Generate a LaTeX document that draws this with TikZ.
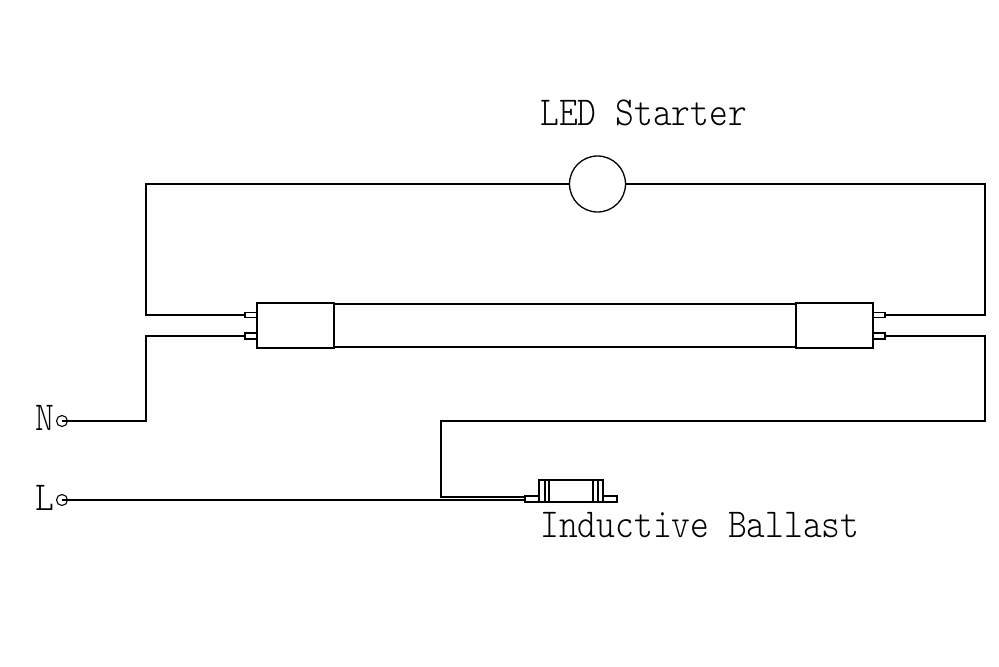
\documentclass[tikz,border=0pt]{standalone}
\usepackage{tikz}
\usetikzlibrary{positioning}
\newcommand{\TallText}[1]{\scalebox{1}[1.15]{#1}}

\begin{document}
\begin{tikzpicture}[
x=0.2mm,y=-0.2mm,
Wires/.style={draw=black,line width=0.24mm},
Parts/.style={draw=black,line width=0.32mm},
Labels/.style={inner sep=0pt,font=\fontsize{20.35}{24}\selectfont\ttfamily\fontseries{l}\selectfont},
Terminal/.style={circle,draw=black,line width=0.22mm,inner sep=0pt,minimum size=2.2mm},
StarterBall/.style={circle,draw=black,line width=0.26mm,inner sep=0pt,minimum size=11.2mm}
]

\useasboundingbox (0,0) rectangle (999,666);

% tube
\draw[Parts] (257,303) rectangle (334,348);
\draw[Parts] (796,303) rectangle (873,348);
\draw[Parts] (334,304) -- (796,304);
\draw[Parts] (334,347) -- (796,347);
\draw[black,line width=0.55mm] (257,303) -- (257,348);
\draw[black,line width=0.55mm] (873,303) -- (873,348);

% pins
\foreach \Ypin/\Hpin in {315/2.5,336/3}{
\draw[Wires] (245,\Ypin-\Hpin) rectangle (257,\Ypin+\Hpin);
\draw[Wires] (873,\Ypin-\Hpin) rectangle (885,\Ypin+\Hpin);
}
\coordinate (PinLa) at (245,315);
\coordinate (PinLb) at (245,336);
\coordinate (PinRa) at (885,315);
\coordinate (PinRb) at (885,336);

% ballast
\draw[Parts] (539,480) rectangle (603,502);
\draw[Wires] (525,496) rectangle (539,502);
\draw[Wires] (603,496) rectangle (617,502);
\foreach \Xbar in {545,549,593,598}{
\draw[Wires] (\Xbar,480) -- (\Xbar,502);
}
\coordinate (BallastA) at (525,497);
\coordinate (BallastB) at (525,500);

% starter and terminals
\node[StarterBall] (Starter) at (597.5,184) {};
\node[Terminal] (TermN) at (62,421) {};
\node[Terminal] (TermL) at (62,500) {};

% wires
\draw[Wires] (Starter.west) -- (146,184) -- (146,315) -- (PinLa);
\draw[Wires] (Starter.east) -- (985,184) -- (985,315) -- (PinRa);
\draw[Wires] (TermN.center) -- (146,421) -- (146,336) -- (PinLb);
\draw[Wires] (PinRb) -- (985,336) -- (985,421) -- (441,421) -- (441,497) -- (BallastA);
\draw[Wires] (TermL.center) -- (BallastB);

% labels
\node[Labels,anchor=base west] (StarterText) at (540,125) {\TallText{LED Starter}};
\node[Labels,anchor=base west] (BallastText) at (540,537) {\TallText{Inductive Ballast}};
\node[Labels,anchor=base] (TextN) at (45,430) {\TallText{N}};
\node[Labels,anchor=base] (TextL) at (45,510) {\TallText{L}};

\end{tikzpicture}
\end{document}
